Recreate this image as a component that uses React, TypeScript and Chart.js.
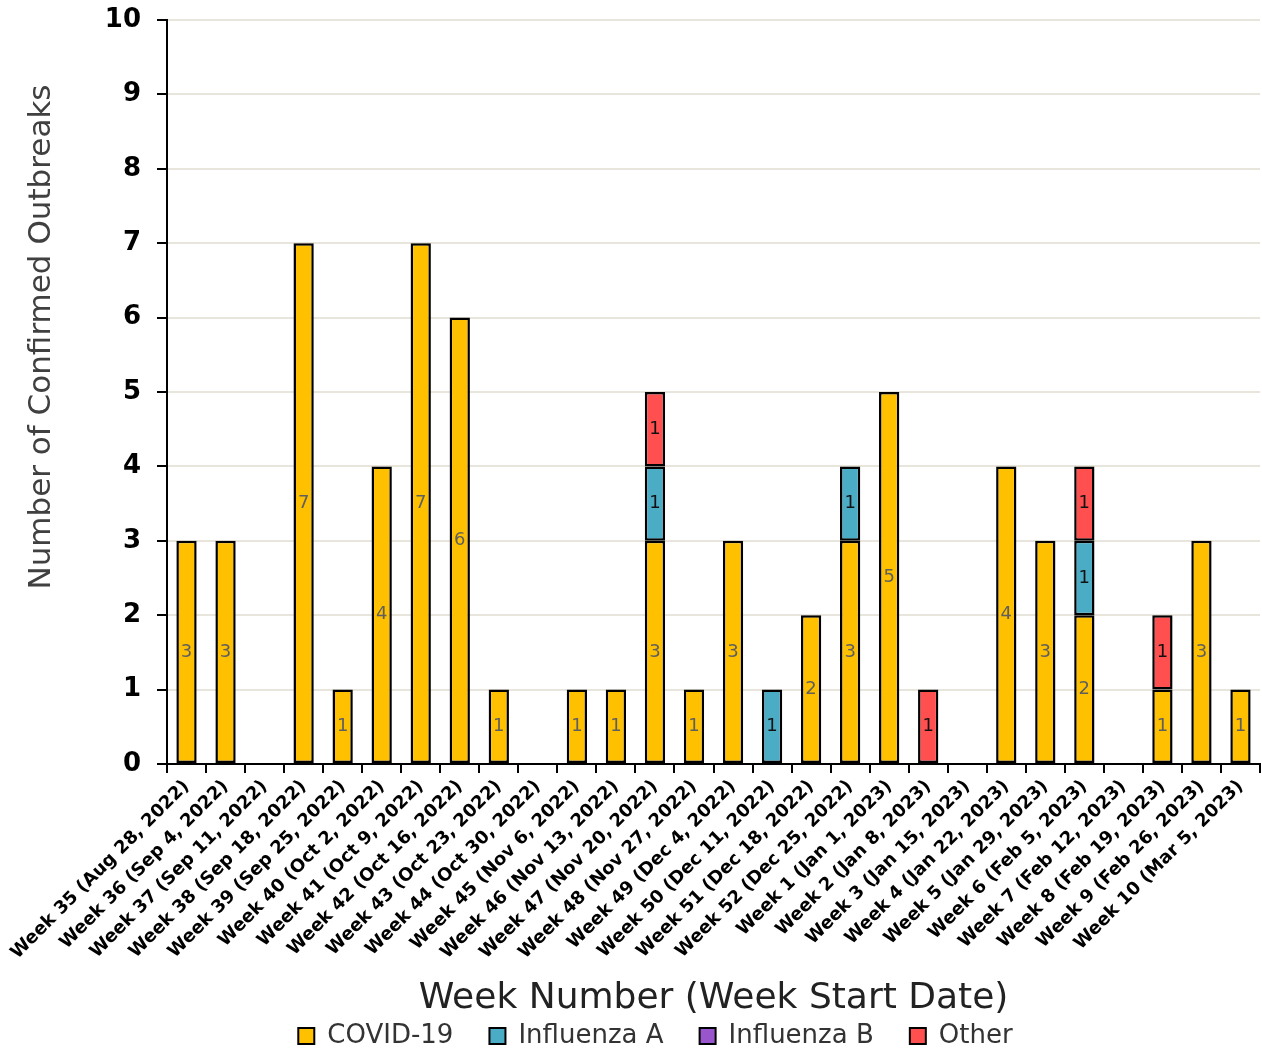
import React, { useEffect, useRef } from "react";
import { Chart, registerables } from "chart.js";

Chart.register(...registerables);

const weeks: string[] = [
  "Week 35 (Aug 28, 2022)", "Week 36 (Sep 4, 2022)", "Week 37 (Sep 11, 2022)", "Week 38 (Sep 18, 2022)",
  "Week 39 (Sep 25, 2022)", "Week 40 (Oct 2, 2022)", "Week 41 (Oct 9, 2022)", "Week 42 (Oct 16, 2022)",
  "Week 43 (Oct 23, 2022)", "Week 44 (Oct 30, 2022)", "Week 45 (Nov 6, 2022)", "Week 46 (Nov 13, 2022)",
  "Week 47 (Nov 20, 2022)", "Week 48 (Nov 27, 2022)", "Week 49 (Dec 4, 2022)", "Week 50 (Dec 11, 2022)",
  "Week 51 (Dec 18, 2022)", "Week 52 (Dec 25, 2022)", "Week 1 (Jan 1, 2023)", "Week 2 (Jan 8, 2023)",
  "Week 3 (Jan 15, 2023)", "Week 4 (Jan 22, 2023)", "Week 5 (Jan 29, 2023)", "Week 6 (Feb 5, 2023)",
  "Week 7 (Feb 12, 2023)", "Week 8 (Feb 19, 2023)", "Week 9 (Feb 26, 2023)", "Week 10 (Mar 5, 2023)",
];

const covid19: number[] = [3, 3, 0, 7, 1, 4, 7, 6, 1, 0, 1, 1, 3, 1, 3, 0, 2, 3, 5, 0, 0, 4, 3, 2, 0, 1, 3, 1];
const influenzaA: number[] = [0, 0, 0, 0, 0, 0, 0, 0, 0, 0, 0, 0, 1, 0, 0, 1, 0, 1, 0, 0, 0, 0, 0, 1, 0, 0, 0, 0];
const influenzaB: number[] = [0, 0, 0, 0, 0, 0, 0, 0, 0, 0, 0, 0, 0, 0, 0, 0, 0, 0, 0, 0, 0, 0, 0, 0, 0, 0, 0, 0];
const other: number[] = [0, 0, 0, 0, 0, 0, 0, 0, 0, 0, 0, 0, 1, 0, 0, 0, 0, 0, 0, 1, 0, 0, 0, 1, 0, 1, 0, 0];

const yTicks: number[] = [0, 1, 2, 3, 4, 5, 6, 7, 8, 9, 10];
const yTitle = "Number of Confirmed Outbreaks";
const xTitle = "Week Number (Week Start Date)";

const FONT = "'DejaVu Sans', sans-serif";

const labelPlugin = {
  id: "segmentLabels",
  afterDatasetsDraw(chart: any) {
    const ctx = chart.ctx;
    ctx.save();
    ctx.font = `18px ${FONT}`;
    ctx.textAlign = "center";
    ctx.textBaseline = "middle";
    chart.data.datasets.forEach((ds: any, di: number) => {
      const meta = chart.getDatasetMeta(di);
      if (meta.hidden) return;
      meta.data.forEach((el: any, i: number) => {
        const v = ds.data[i];
        if (!v) return;
        const y = (el.y + el.base) / 2;
        ctx.fillStyle = di === 0 ? "#5f5f5f" : "#111111";
        ctx.fillText(String(v), el.x, y);
      });
    });
    ctx.restore();
  },
};

const yTitlePlugin = {
  id: "yTitle",
  afterDraw(chart: any) {
    const ctx = chart.ctx;
    ctx.save();
    ctx.translate(42, 337);
    ctx.rotate(-Math.PI / 2);
    ctx.font = `31px ${FONT}`;
    ctx.fillStyle = "#404040";
    ctx.textAlign = "center";
    ctx.textBaseline = "middle";
    ctx.fillText(yTitle, 0, 0);
    ctx.restore();
  },
};

export default function App() {
  const ref = useRef<HTMLCanvasElement | null>(null);
  useEffect(() => {
    if (!ref.current) return;
    const mk = (label: string, data: number[], color: string) => ({
      label,
      data: data.map((v) => (v === 0 ? null : v)),
      backgroundColor: color,
      borderColor: "#000000",
      borderWidth: 2.5,
      borderSkipped: false as any,
      categoryPercentage: 1.0,
      barPercentage: 0.52,
    });
    const chart = new Chart(ref.current, {
      type: "bar",
      data: {
        labels: weeks,
        datasets: [
          mk("COVID-19", covid19, "#FFC000"),
          mk("Influenza A", influenzaA, "#4BACC6"),
          mk("Influenza B", influenzaB, "#9955CC"),
          mk("Other", other, "#FF4F4F"),
        ],
      },
      options: {
        animation: false,
        responsive: false,
        maintainAspectRatio: false,
        layout: { padding: { top: 20, right: 2, left: 84, bottom: -6 } },
        plugins: {
          legend: {
            position: "bottom",
            labels: {
              font: { family: FONT, size: 26 },
              color: "#333333",
              boxWidth: 16,
              boxHeight: 16,
              padding: 3,
              generateLabels: (c: any) =>
                c.data.datasets.map((d: any, i: number) => ({
                  text: d.label + "    ",
                  fillStyle: d.backgroundColor,
                  strokeStyle: "#000000",
                  lineWidth: 2,
                  hidden: false,
                  datasetIndex: i,
                  fontColor: "#333333",
                })),
            },
          },
          tooltip: { enabled: false },
        },
        scales: {
          x: {
            stacked: true,
            afterFit: (s: any) => {
              s.height = 256;
              s.paddingLeft = 0;
              s.paddingRight = 0;
            },
            grid: {
              offset: true,
              drawOnChartArea: false,
              drawTicks: true,
              tickLength: 9,
              color: "#000000",
              tickColor: "#000000",
              lineWidth: 2,
            },
            border: { display: true, color: "#000000", width: 2 },
            ticks: {
              autoSkip: false,
              maxRotation: 45,
              minRotation: 45,
              color: "#000000",
              font: { family: FONT, size: 18, weight: "bold" },
              padding: 3,
            },
            title: {
              display: true,
              text: xTitle,
              color: "#222222",
              font: { family: FONT, size: 36 },
              padding: { top: 0, bottom: 0 },
            },
          },
          y: {
            stacked: true,
            min: 0,
            max: 10,
            afterFit: (s: any) => {
              s.width = 83;
              s.paddingTop = 0;
              s.paddingBottom = 0;
            },
            afterBuildTicks: (axis: any) => {
              axis.ticks = yTicks.map((v) => ({ value: v }));
            },
            grid: {
              color: "#e8e5dc",
              tickColor: "#000000",
              tickLength: 10,
              lineWidth: 2,
            },
            border: { display: true, color: "#000000", width: 2 },
            ticks: {
              stepSize: 1,
              color: "#000000",
              font: { family: FONT, size: 26, weight: "bold" },
              padding: 16,
            },
          },
        },
      },
      plugins: [labelPlugin, yTitlePlugin],
    });
    return () => chart.destroy();
  }, []);
  return (
    <div style={{ position: "absolute", left: 0, top: 0, width: 1262, height: 1053, background: "#fff" }}>
      <canvas ref={ref} width={1262} height={1053} style={{ width: 1262, height: 1053 }} />
    </div>
  );
}
